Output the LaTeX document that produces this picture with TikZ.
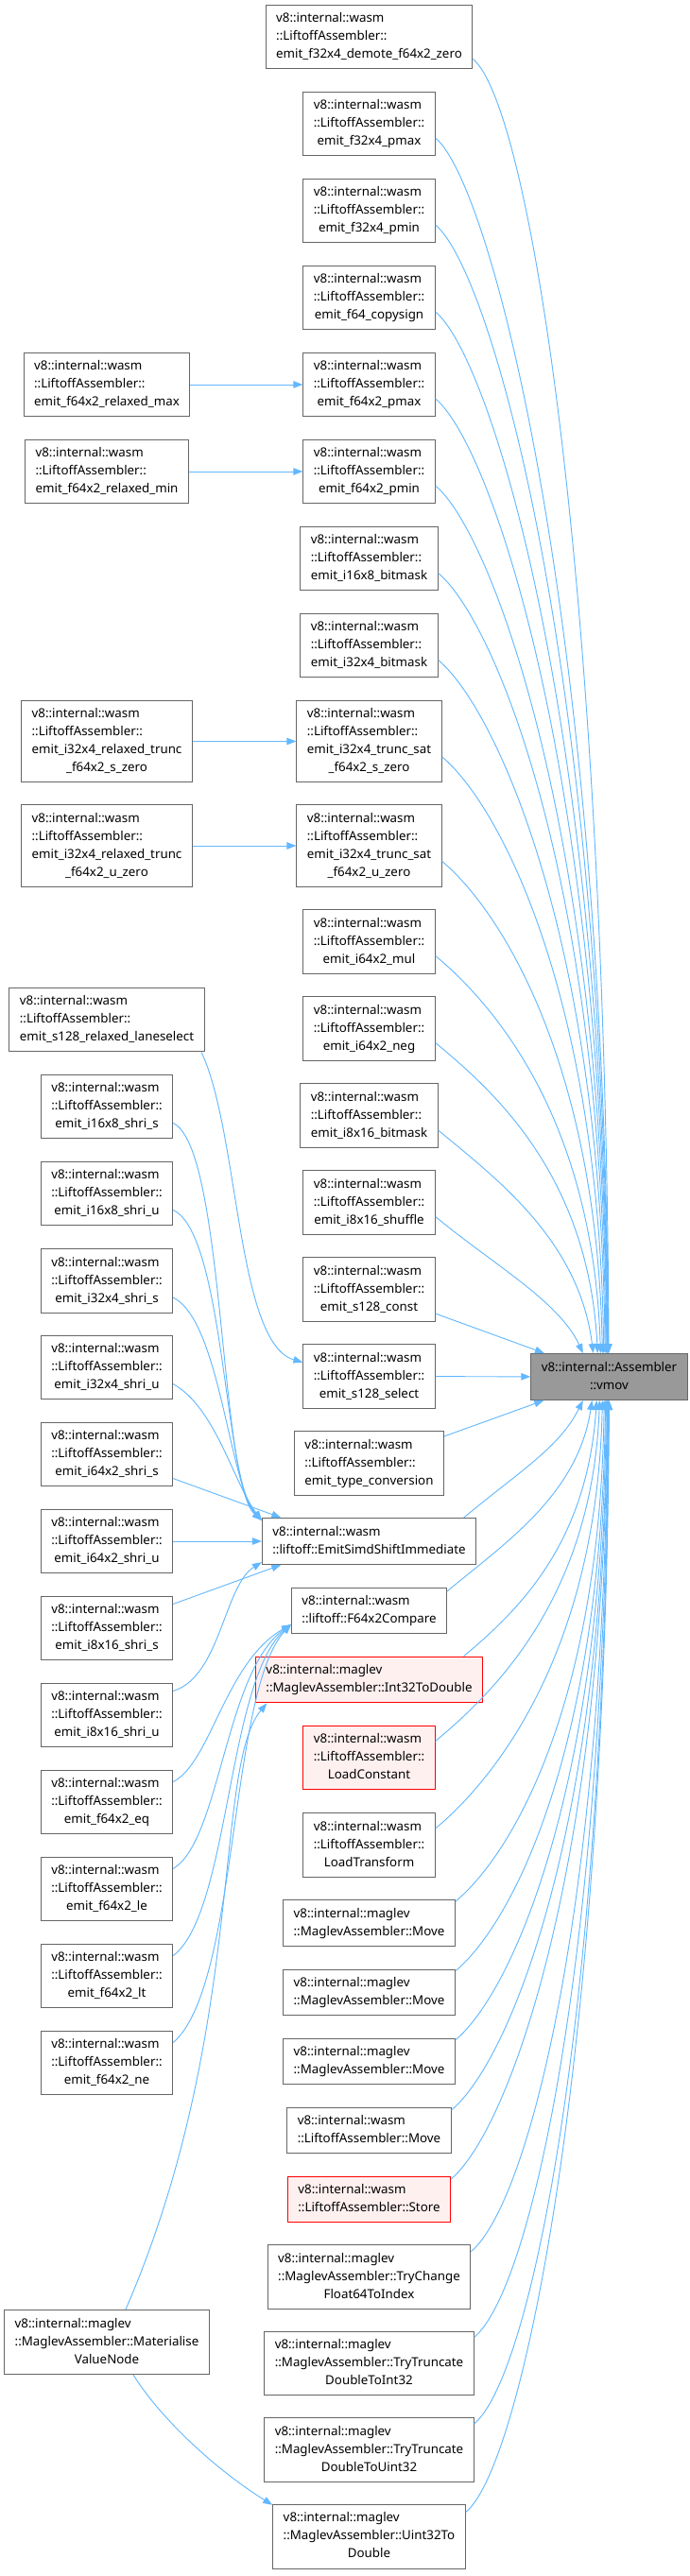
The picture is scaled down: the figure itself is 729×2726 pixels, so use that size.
\documentclass[tikz,border=0pt]{standalone}
\usepackage{fontspec}
\setmainfont{Noto Sans}
\usetikzlibrary{arrows.meta}
\definecolor{doxedge}{HTML}{63B8FF}
\definecolor{doxborder}{HTML}{666666}
\definecolor{doxred}{HTML}{FF0000}
\definecolor{doxpink}{HTML}{FFF0F0}
\definecolor{doxgray}{HTML}{999999}
% left aligned lines, last line centred (doxygen style)
\newcommand{\fnl}[2]{\begin{tabular}{@{}l@{}}#1\\\multicolumn{1}{@{}c@{}}{#2}\end{tabular}}
\newcommand{\lift}{v8::internal::wasm\\::LiftoffAssembler::}
\newcommand{\mglv}{v8::internal::maglev}

\begin{document}
\begin{tikzpicture}[x=0.75pt,y=-0.75pt,
  fn/.style={draw=doxborder,fill=white,line width=0.75pt,inner xsep=8.25pt,inner ysep=4.1pt,font=\fontsize{10}{14.25}\selectfont},
  fnred/.style={fn,draw=doxred,fill=doxpink},
  fncur/.style={fn,fill=doxgray},
  edge/.style={draw=doxedge,line width=0.7pt,-{Triangle[length=7.5pt,width=5.6pt]}}]
\useasboundingbox (0,0) rectangle (729,2726);

\node[fncur] (vmov) at (644.5,1457) {\fnl{v8::internal::Assembler}{::vmov}};

% middle column
\node[fn] (f32x4demote) at (390.5,39) {\fnl{\lift}{emit\_f32x4\_demote\_f64x2\_zero}};
\node[fn] (f32x4pmax) at (390.5,131) {\fnl{\lift}{emit\_f32x4\_pmax}};
\node[fn] (f32x4pmin) at (390.5,223) {\fnl{\lift}{emit\_f32x4\_pmin}};
\node[fn] (f64copysign) at (390.5,315) {\fnl{\lift}{emit\_f64\_copysign}};
\node[fn] (f64x2pmax) at (390.5,407) {\fnl{\lift}{emit\_f64x2\_pmax}};
\node[fn] (f64x2pmin) at (390.5,499) {\fnl{\lift}{emit\_f64x2\_pmin}};
\node[fn] (i16x8bitmask) at (390.5,591) {\fnl{\lift}{emit\_i16x8\_bitmask}};
\node[fn] (i32x4bitmask) at (390.5,683) {\fnl{\lift}{emit\_i32x4\_bitmask}};
\node[fn] (truncsats) at (390.5,784.5) {\fnl{\lift\\emit\_i32x4\_trunc\_sat}{\_f64x2\_s\_zero}};
\node[fn] (truncsatu) at (390.5,895) {\fnl{\lift\\emit\_i32x4\_trunc\_sat}{\_f64x2\_u\_zero}};
\node[fn] (i64x2mul) at (390.5,996.5) {\fnl{\lift}{emit\_i64x2\_mul}};
\node[fn] (i64x2neg) at (390.5,1088.5) {\fnl{\lift}{emit\_i64x2\_neg}};
\node[fn] (i8x16bitmask) at (390.5,1180.5) {\fnl{\lift}{emit\_i8x16\_bitmask}};
\node[fn] (i8x16shuffle) at (390.5,1272.5) {\fnl{\lift}{emit\_i8x16\_shuffle}};
\node[fn] (s128const) at (390.5,1364.5) {\fnl{\lift}{emit\_s128\_const}};
\node[fn] (s128select) at (390.5,1456.5) {\fnl{\lift}{emit\_s128\_select}};
\node[fn] (typeconv) at (390.5,1548.5) {\fnl{\lift}{emit\_type\_conversion}};
\node[fn] (shiftimm) at (390.5,1631) {\fnl{v8::internal::wasm}{::liftoff::EmitSimdShiftImmediate}};
\node[fn] (f64x2cmp) at (390.5,1704.5) {\fnl{v8::internal::wasm}{::liftoff::F64x2Compare}};
\node[fnred] (int32todouble) at (390.5,1777.5) {\fnl{\mglv}{::MaglevAssembler::Int32ToDouble}};
\node[fnred] (loadconst) at (390.5,1860) {\fnl{\lift}{LoadConstant}};
\node[fn] (loadtransform) at (390.5,1952.5) {\fnl{\lift}{LoadTransform}};
\node[fn] (mvA) at (390.5,2035) {\fnl{\mglv}{::MaglevAssembler::Move}};
\node[fn] (mvB) at (390.5,2108.5) {\fnl{\mglv}{::MaglevAssembler::Move}};
\node[fn] (mvC) at (390.5,2181.5) {\fnl{\mglv}{::MaglevAssembler::Move}};
\node[fn] (liftoffmove) at (390.5,2254.5) {\fnl{v8::internal::wasm}{::LiftoffAssembler::Move}};
\node[fnred] (store) at (390.5,2327.5) {\fnl{v8::internal::wasm}{::LiftoffAssembler::Store}};
\node[fn] (trychange) at (390.5,2409.5) {\fnl{\mglv\\::MaglevAssembler::TryChange}{Float64ToIndex}};
\node[fn] (trunci32) at (390.5,2501) {\fnl{\mglv\\::MaglevAssembler::TryTruncate}{DoubleToInt32}};
\node[fn] (truncu32) at (390.5,2592.5) {\fnl{\mglv\\::MaglevAssembler::TryTruncate}{DoubleToUint32}};
\node[fn] (uint32todouble) at (390.5,2684) {\fnl{\mglv\\::MaglevAssembler::Uint32To}{Double}};

% left column
\node[fn] (relaxedmax) at (113,407) {\fnl{\lift}{emit\_f64x2\_relaxed\_max}};
\node[fn] (relaxedmin) at (113,499) {\fnl{\lift}{emit\_f64x2\_relaxed\_min}};
\node[fn] (relaxedtruncs) at (113,784.5) {\fnl{\lift\\emit\_i32x4\_relaxed\_trunc}{\_f64x2\_s\_zero}};
\node[fn] (relaxedtruncu) at (113,895) {\fnl{\lift\\emit\_i32x4\_relaxed\_trunc}{\_f64x2\_u\_zero}};
\node[fn] (laneselect) at (113,1079) {\fnl{\lift}{emit\_s128\_relaxed\_laneselect}};
\foreach \w/\sg/\y in {i16x8/s/1171, i16x8/u/1263, i32x4/s/1355.5, i32x4/u/1447, i64x2/s/1539, i64x2/u/1631, i8x16/s/1723, i8x16/u/1815}
  \node[fn] (\w shri\sg) at (113,\y) {\fnl{\lift}{emit\_\w\_shri\_\sg}};
\foreach \cm/\y in {eq/1907, le/1999, lt/2091, ne/2183}
  \node[fn] (f64x2\cm) at (113,\y) {\fnl{\lift}{emit\_f64x2\_\cm}};
\node[fn] (materialise) at (113,2478.5) {\fnl{\mglv\\::MaglevAssembler::Materialise}{ValueNode}};

% calls into vmov
\foreach \src/\ang/\dx/\k in {f32x4demote/91/-4/820, f32x4pmax/92/-4/770, f32x4pmin/93/-4/720, f64copysign/94/-4/660, f64x2pmax/95/-4/610, f64x2pmin/96/-4/550, i16x8bitmask/98/-4/500, i32x4bitmask/100/-4/440, truncsats/103/-5/380, truncsatu/106/-6/310, i64x2mul/110/-8/250, i64x2neg/116/-10/190, i8x16bitmask/124/-15/120, i8x16shuffle/138/-25/55}
  \draw[edge] (\src.-12) .. controls +(60,50) and +(\dx,-\k) .. (vmov.\ang);
\draw[edge] (s128const) -- (vmov);
\draw[edge] (s128select) -- (vmov);
\draw[edge] (typeconv) -- (vmov);
\foreach \src/\ang/\dx/\k in {shiftimm/-138/-25/50, f64x2cmp/-126/-15/100, int32todouble/-118/-10/150, loadconst/-112/-8/210, loadtransform/-106/-6/270, mvA/-102/-4/320, mvB/-99/-4/370, mvC/-97/-4/410, liftoffmove/-95/-4/460, store/-94/-4/500, trychange/-93/-4/540, trunci32/-92/-4/590, truncu32/-91/-4/650, uint32todouble/-90/-4/700}
  \draw[edge] (\src.14) .. controls +(60,-50) and +(\dx,\k) .. (vmov.\ang);

% left callers
\draw[edge] (relaxedmax) -- (f64x2pmax);
\draw[edge] (relaxedmin) -- (f64x2pmin);
\draw[edge] (relaxedtruncs) -- (truncsats);
\draw[edge] (relaxedtruncu) -- (truncsatu);
\draw[edge] (laneselect.-19) .. controls +(40,85) and +(-70,-20) .. (s128select.168);
\foreach \w/\sg/\ox/\ix in {i16x8/s/55/45, i16x8/u/55/40, i32x4/s/50/35, i32x4/u/45/30}
  \draw[edge] (\w shri\sg.-14) .. controls +(\ox,25) and +(-\ix,-40) .. (shiftimm.169);
\draw[edge] (i64x2shris.-20) -- (shiftimm.165);
\draw[edge] (i64x2shriu) -- (shiftimm);
\draw[edge] (i8x16shris.20) -- (shiftimm.-165);
\draw[edge] (i8x16shriu.20) .. controls +(50,-15) and +(-40,25) .. (shiftimm.-169);
\foreach \cm/\ox/\oy/\ix/\iy in {eq/40/20/70/40, le/50/30/70/50, lt/60/45/68/60, ne/70/60/66/70}
  \draw[edge] (f64x2\cm.17) .. controls +(\ox,-\oy) and +(-\ix,\iy) .. (f64x2cmp.-170);
\draw[edge] (materialise.60) .. controls +(128,-295) and +(-57,68) .. (int32todouble.-167);
\draw[edge] (materialise.-51) .. controls +(30,48) and +(-58,-36) .. (uint32todouble.162);
\end{tikzpicture}
\end{document}
